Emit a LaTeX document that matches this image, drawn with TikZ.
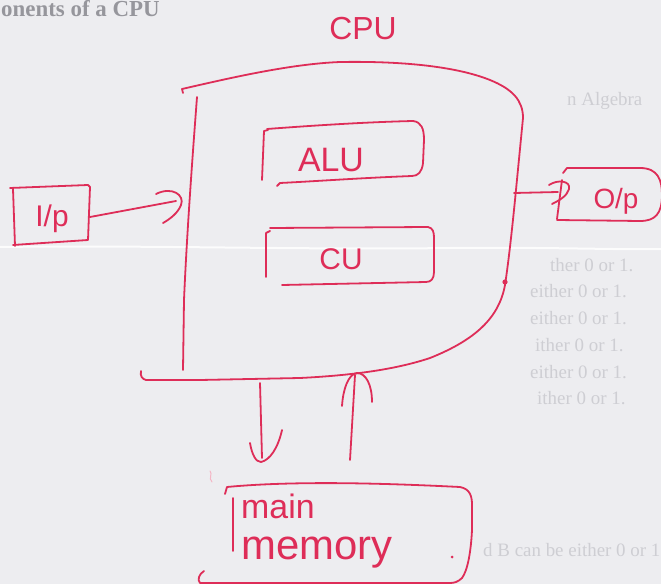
\documentclass[tikz,border=0pt]{standalone}
\usepackage{fontspec}
\setmainfont{Liberation Serif}
\newfontfamily\penfont{Liberation Sans}
\definecolor{ink}{RGB}{222,45,88}
\definecolor{paper}{RGB}{237,237,240}
\definecolor{printgray}{RGB}{150,150,156}
\definecolor{ghost}{RGB}{206,206,211}
\begin{document}
\begin{tikzpicture}[x=1bp,y=-1bp,
  pen/.style={draw=ink,line width=1.8bp,line cap=round,line join=round},
  penlabel/.style={text=ink,font=\penfont,inner sep=0pt},
  ghosttext/.style={text=ghost,font=\fontsize{19}{19}\selectfont,anchor=base west,inner sep=0pt}]
\useasboundingbox (0,0) rectangle (661,584);
\fill[paper] (0,0) rectangle (661,584);
\begin{scope}
\clip (0,0) rectangle (661,584);

% printed heading and show-through of the page
\node[text=printgray,font=\bfseries\fontsize{23}{23}\selectfont,anchor=base west,inner sep=0pt] (heading) at (1,17) {onents of a CPU};
\node[ghosttext] (g0) at (567,106) {n Algebra};
\node[ghosttext] (g1) at (550,271) {ther 0 or 1.};
\node[ghosttext] (g2) at (530,297) {either 0 or 1.};
\node[ghosttext] (g3) at (530,324) {either 0 or 1.};
\node[ghosttext] (g4) at (535,351) {ither 0 or 1.};
\node[ghosttext] (g5) at (530,378) {either 0 or 1.};
\node[ghosttext] (g6) at (537,404) {ither 0 or 1.};
\node[ghosttext] (g7) at (483,556) {d B can be either 0 or 1};

% fold line across the sheet
\draw[white,line width=2bp,opacity=0.85] (0,247) .. controls (150,245) and (300,250) .. (450,248) .. controls (550,247) and (620,250) .. (661,249);

% CPU outline
\node[penlabel,font=\penfont\fontsize{32}{32}\selectfont] (cpulabel) at (363,29) {CPU};
\draw[pen] (183,93) -- (182,89) .. controls (230,78) and (290,64) .. (340,62)
  .. controls (400,61) and (455,66) .. (490,80) .. controls (512,89) and (523,100) .. (523,118)
  -- (515,200) .. controls (511,240) and (508,265) .. (505,285)
  .. controls (499,318) and (475,340) .. (430,358) .. controls (400,368) and (360,375) .. (300,378)
  -- (200,380) -- (146,380) .. controls (142,379) and (140,376) .. (141,371);
\draw[pen] (197,97) .. controls (193,150) and (187,230) .. (184,300) -- (183,370);
\fill[ink] (505,282) circle (2.6);

% ALU box
\draw[pen] (268,130) -- (264,131) -- (262,180);
\draw[pen] (267,129) .. controls (320,125) and (370,122) .. (413,121)
  .. controls (421,122) and (424,128) .. (424,140) -- (423,163)
  .. controls (422,172) and (418,176) .. (412,176)
  .. controls (360,178) and (320,181) .. (280,183) -- (277,186);
\node[penlabel,font=\penfont\fontsize{34}{34}\selectfont] (alu) at (331,160) {ALU};

% CU box
\draw[pen] (270,231) -- (266,233) -- (266,277);
\draw[pen] (270,228) -- (428,227) .. controls (433,228) and (434,232) .. (434,238)
  -- (434,272) .. controls (434,279) and (431,282) .. (426,282) -- (282,285);
\node[penlabel,font=\penfont\fontsize{30}{30}\selectfont] (cu) at (341,259) {CU};

% input box and arrow
\draw[pen] (10,188) -- (88,185) -- (90,187) -- (88,240) -- (13,245) -- (15,245);
\draw[pen] (13,189) -- (15,246);
\node[penlabel,font=\penfont\fontsize{30}{30}\selectfont] (ip) at (52,219) {I/p};
\coordinate (ipR) at (90,217);
\coordinate (cpuIn) at (176,201);
\draw[pen] (ipR) -- (cpuIn);
\draw[pen] (156,194) .. controls (172,186) and (185,195) .. (181,205) .. controls (178,213) and (170,219) .. (163,223);

% output arrow and box
\coordinate (cpuOut) at (514,193);
\coordinate (opL) at (558,192);
\draw[pen] (cpuOut) -- (opL);
\draw[pen] (549,185) .. controls (558,179) and (571,181) .. (569,189) .. controls (567,196) and (560,200) .. (552,204);
\draw[pen] (563,173) -- (567,168) -- (640,168) .. controls (658,168) and (662,180) .. (662,195)
  .. controls (662,214) and (655,221) .. (640,221) -- (557,220);
\draw[pen] (562,180) -- (557,219);
\node[penlabel,font=\penfont\fontsize{28}{28}\selectfont] (op) at (616,201) {O/p};

% main memory box
\draw[pen] (225,494) -- (227,487) .. controls (300,480) and (400,484) .. (460,487)
  .. controls (470,489) and (472,496) .. (472,505) -- (472,530)
  .. controls (471,550) and (468,570) .. (462,578) .. controls (458,582) and (454,583) .. (450,583)
  -- (200,583) .. controls (197,580) and (199,574) .. (204,571);
\draw[pen] (233,498) -- (233,551);
\node[penlabel,font=\penfont\fontsize{34}{41}\selectfont,align=left,anchor=north west] (mem) at (241,494)
  {main\\{\fontsize{42}{41}\selectfont memory}};
\fill[ink] (452,557) circle (1.5);
\draw[ink!35,line width=1bp,line cap=round] (210,471) .. controls (213,474) and (208,478) .. (212,482);

% CPU to memory
\coordinate (cpuBotA) at (260,383);
\coordinate (memTopA) at (262,458);
\draw[pen] (cpuBotA) -- (memTopA);
\draw[pen] (250,443) .. controls (252,455) and (256,462) .. (261,462) .. controls (270,460) and (278,448) .. (282,430);

% memory to CPU
\coordinate (memTopB) at (350,460);
\coordinate (cpuBotB) at (355,375);
\draw[pen] (memTopB) -- (cpuBotB);
\draw[pen] (342,406) .. controls (343,390) and (348,374) .. (357,373) .. controls (366,373) and (372,385) .. (372,402);
\end{scope}
\end{tikzpicture}
\end{document}
